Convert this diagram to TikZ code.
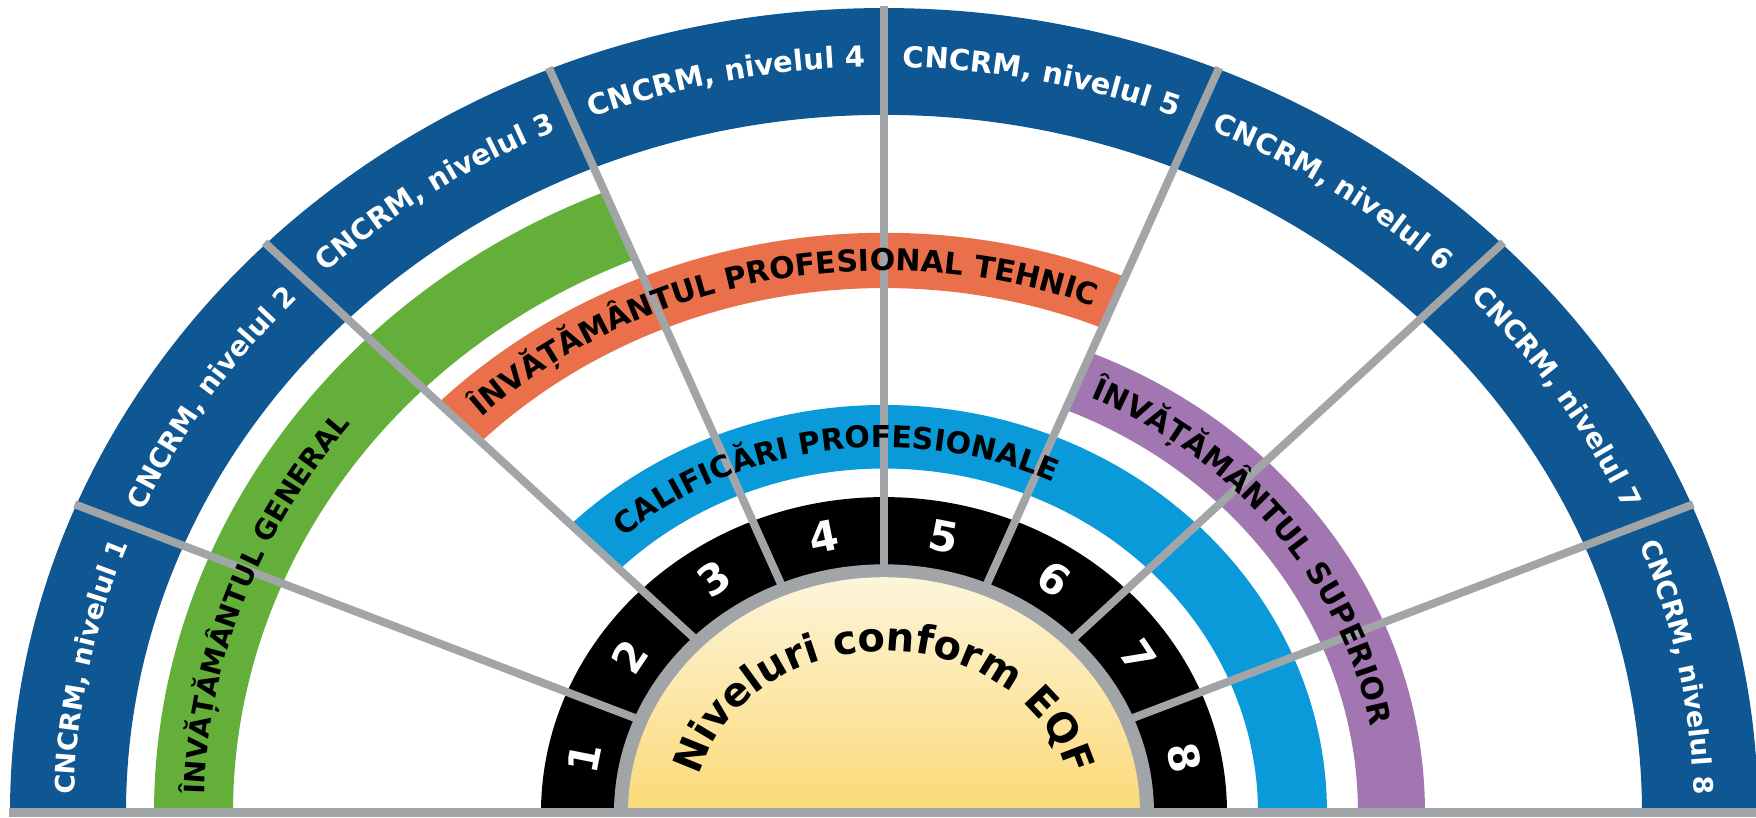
\documentclass[tikz,border=0pt]{standalone}
\usepackage{fontspec}
\setmainfont{DejaVu Sans}
\usetikzlibrary{decorations.text}
\definecolor{cnblue}{RGB}{14,87,146}
\definecolor{gengreen}{RGB}{99,175,58}
\definecolor{tehorange}{RGB}{233,112,75}
\definecolor{calblue}{RGB}{10,154,218}
\definecolor{suppurple}{RGB}{162,118,176}
\definecolor{spokegrey}{RGB}{162,165,168}
\definecolor{yeltop}{RGB}{253,245,218}
\definecolor{yelbot}{RGB}{251,217,118}
\newcommand\ellk{0.921}
\newcommand\cnfont[1]{\fontsize{#1}{#1}\selectfont\bfseries}
\newcommand\eqffont{\fontsize{40}{40}\selectfont\bfseries}
% annular sector: colour, start angle, end angle, inner r, outer r
\newcommand\ringband[5]{%
  \fill[#1] ({(#5)*cos(#2)},{\ellk*(#5)*sin(#2)})
    arc[start angle=#2, end angle=#3, x radius=#5, y radius={\ellk*(#5)}]
    -- ({(#4)*cos(#3)},{\ellk*(#4)*sin(#3)})
    arc[start angle=#3, end angle=#2, x radius=#4, y radius={\ellk*(#4)}] -- cycle;}
% text along an elliptic arc: options, radius, start, end, text, font
\newcommand\arclabel[6]{%
  \path[decorate, decoration={text along path, text align=center, #1,
      text={|#6|#5}}]
    ({(#2)*cos(#3)},{\ellk*(#2)*sin(#3)})
    arc[start angle=#3, end angle=#4, x radius=#2, y radius={\ellk*(#2)}];}
\begin{document}
\begin{tikzpicture}[x=1pt,y=1pt,
  spokeline/.style={draw=spokegrey, line width=8pt},
  numlbl/.style={text=white, font=\fontsize{42}{42}\selectfont\bfseries, inner sep=0pt}]
\useasboundingbox (-884,-4) rectangle (872,813);
% outer ring
\ringband{cnblue}{0}{180}{758}{874}
% coloured bands
\ringband{gengreen}{112.5}{180}{651}{730}
\ringband{tehorange}{67.5}{135}{570}{630}
\ringband{suppurple}{0}{67.5}{474}{541}
\ringband{calblue}{0}{135}{374}{443}
% black ring, grey ring, yellow core
\ringband{black}{0}{180}{268}{343}
\ringband{spokegrey}{0}{180}{255}{270}
\shade[top color=yeltop, bottom color=yelbot] (256,0)
  arc[start angle=0, end angle=180, x radius=256, y radius={\ellk*256}] -- cycle;
% spokes
\foreach \i in {1,...,7}{
  \pgfmathsetmacro\ang{22.5*\i}
  \coordinate (si\i) at ({262*cos(\ang)},{\ellk*262*sin(\ang)});
  \coordinate (so\i) at ({876*cos(\ang)},{\ellk*876*sin(\ang)});
  \draw[spokeline] (si\i) -- (so\i);
}
% bottom bar
\fill[spokegrey] (-875,-4) rectangle (872,5);
% outer labels
\arclabel{text color=white}{810}{180}{157.5}{CNCRM, nivelul 1}{\cnfont{26.8}}
\arclabel{text color=white}{810}{157.5}{135}{CNCRM, nivelul 2}{\cnfont{27.5}}
\arclabel{text color=white}{810}{135}{112.5}{CNCRM, nivelul 3}{\cnfont{28.3}}
\arclabel{text color=white}{810}{112.5}{90}{CNCRM, nivelul 4}{\cnfont{29}}
\arclabel{text color=white}{810}{90}{67.5}{CNCRM, nivelul 5}{\cnfont{29}}
\arclabel{text color=white}{810}{67.5}{45}{CNCRM, nivelul 6}{\cnfont{28.3}}
\arclabel{text color=white}{810}{45}{22.5}{CNCRM, nivelul 7}{\cnfont{27.5}}
\arclabel{text color=white}{810}{22.5}{0}{CNCRM, nivelul 8}{\cnfont{26.8}}
% band labels
\arclabel{text color=black}{680}{180}{140}{ÎNVĂȚĂMÂNTUL GENERAL}{\cnfont{28}}
\arclabel{text color=black}{589}{140}{62.5}{ÎNVĂȚĂMÂNTUL PROFESIONAL TEHNIC}{\cnfont{30}}
\arclabel{text color=black}{397}{140}{56}{CALIFICĂRI PROFESIONALE}{\cnfont{30}}
\arclabel{text color=black}{496}{70}{6}{ÎNVĂȚĂMÂNTUL SUPERIOR}{\cnfont{30}}
% centre label
\path[decorate, decoration={text along path, text align=center, text color=black,
    text={|\eqffont|Niveluri conform EQF}}]
  (-190,0) arc[start angle=180, end angle=0, x radius=190, y radius=162];
% level numbers
\foreach \i in {1,...,8}{
  \pgfmathsetmacro\ang{180-22.5*(\i-0.5)}
  \pgfmathsetmacro\rot{\ang-90}
  \node[numlbl, rotate=\rot] (num\i) at ({306*cos(\ang)},{\ellk*306*sin(\ang)}) {\i};
}
\end{tikzpicture}
\end{document}
